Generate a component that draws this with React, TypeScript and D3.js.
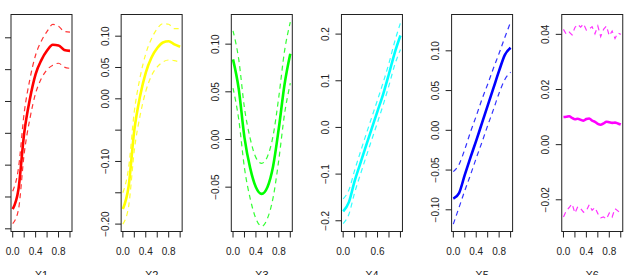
import React from 'react';
import * as d3 from 'd3';

// sample positions along each predictor
const xGrid = [0, 0.1, 0.2, 0.3, 0.4, 0.5, 0.6, 0.7, 0.8, 0.9, 1.0];
const xFine = [0, 0.05, 0.1, 0.15, 0.2, 0.25, 0.3, 0.35, 0.4, 0.45, 0.5, 0.55, 0.6, 0.65, 0.7, 0.75, 0.8, 0.85, 0.9, 0.95, 1.0];

const fit1 = [-0.169, -0.138, -0.05, 0.004, 0.043, 0.065, 0.08, 0.089, 0.088, 0.081, 0.0795];
const upper1 = [-0.141, -0.105, -0.018, 0.035, 0.073, 0.095, 0.11, 0.121, 0.118, 0.11, 0.109];
const lower1 = [-0.192, -0.17, -0.082, -0.027, 0.013, 0.036, 0.05, 0.057, 0.06, 0.054, 0.052];

const fit2 = [-0.176, -0.14, -0.05, 0.004, 0.042, 0.066, 0.081, 0.09, 0.092, 0.087, 0.083];
const upper2 = [-0.15, -0.11, -0.02, 0.034, 0.072, 0.096, 0.112, 0.12, 0.119, 0.112, 0.112];
const lower2 = [-0.2, -0.172, -0.082, -0.027, 0.012, 0.037, 0.051, 0.059, 0.062, 0.061, 0.058];

const fit3 = [0.084, 0.053, 0.002, -0.03, -0.05, -0.057, -0.05, -0.028, 0.012, 0.058, 0.09];
const upper3 = [0.114, 0.084, 0.033, 0.001, -0.019, -0.025, -0.018, 0.004, 0.045, 0.093, 0.123];
const lower3 = [0.054, 0.021, -0.03, -0.062, -0.083, -0.091, -0.083, -0.061, -0.021, 0.027, 0.059];

const fit4 = [-0.18, -0.16, -0.115, -0.077, -0.039, -0.002, 0.035, 0.072, 0.115, 0.16, 0.197];
const upper4 = [-0.153, -0.134, -0.092, -0.053, -0.015, 0.022, 0.059, 0.097, 0.138, 0.184, 0.224];
const lower4 = [-0.206, -0.186, -0.14, -0.101, -0.063, -0.026, 0.011, 0.049, 0.09, 0.134, 0.167];

const fit5 = [-0.086, -0.079, -0.056, -0.034, -0.013, 0.009, 0.031, 0.053, 0.075, 0.095, 0.104];
const upper5 = [-0.052, -0.043, -0.024, -0.002, 0.018, 0.039, 0.058, 0.078, 0.097, 0.117, 0.136];
const lower5 = [-0.118, -0.097, -0.076, -0.056, -0.035, -0.015, 0.006, 0.026, 0.047, 0.064, 0.073];

const fit6 = [0.01, 0.0101, 0.0103, 0.0097, 0.0092, 0.0094, 0.009, 0.0087, 0.0093, 0.0095, 0.0087,
  0.0083, 0.0075, 0.0072, 0.0077, 0.0083, 0.0081, 0.0079, 0.008, 0.0077, 0.0073];
const upper6 = [0.0418, 0.04, 0.0408, 0.0398, 0.0425, 0.0436, 0.0426, 0.0438, 0.0415, 0.042, 0.0428,
  0.0402, 0.043, 0.0392, 0.0418, 0.043, 0.0395, 0.0412, 0.0385, 0.0405, 0.04];
const lower6 = [-0.0262, -0.024, -0.0228, -0.0215, -0.0248, -0.0225, -0.0232, -0.0245, -0.024, -0.0218, -0.0238,
  -0.0228, -0.025, -0.0265, -0.0262, -0.027, -0.0248, -0.0262, -0.0232, -0.024, -0.0252];

const names = ['X1', 'X2', 'X3', 'X4', 'X5', 'X6'];
const colors = ['#ff0000', '#ffff00', '#00ff00', '#00ffff', '#0000ff', '#ff00ff'];

const yTicks1 = [-0.2, -0.15, -0.1, -0.05, 0, 0.05, 0.1];
const yTicks3 = [-0.05, 0, 0.05, 0.1];
const yTicks4 = [-0.2, -0.1, 0, 0.1, 0.2];
const yTicks5 = [-0.1, -0.05, 0, 0.05, 0.1];
const yTicks6 = [-0.02, 0, 0.02, 0.04];
const xTicks = [0, 0.2, 0.4, 0.6, 0.8, 1.0];
const xLabels = [0, 0.4, 0.8];
const xLabels4 = [0, 0.6];

const panels = [
  { x: xGrid, fit: fit1, upper: upper1, lower: lower1, domain: [-0.2042, 0.1366], yTicks: yTicks1, yLabels: [] as number[], digits: 2, xLab: xLabels },
  { x: xGrid, fit: fit2, upper: upper2, lower: lower2, domain: [-0.2118, 0.1346], yTicks: yTicks1, yLabels: [0.1, 0.05, 0, -0.1, -0.2], digits: 2, xLab: xLabels },
  { x: xGrid, fit: fit3, upper: upper3, lower: lower3, domain: [-0.0965, 0.1311], yTicks: yTicks3, yLabels: yTicks3, digits: 2, xLab: xLabels },
  { x: xGrid, fit: fit4, upper: upper4, lower: lower4, domain: [-0.223, 0.242], yTicks: yTicks4, yLabels: yTicks4, digits: 1, xLab: xLabels4 },
  { x: xGrid, fit: fit5, upper: upper5, lower: lower5, domain: [-0.1273, 0.1457], yTicks: yTicks5, yLabels: yTicks5, digits: 2, xLab: xLabels },
  { x: xFine, fit: fit6, upper: upper6, lower: lower6, domain: [-0.0315, 0.0472], yTicks: yTicks6, yLabels: yTicks6, digits: 2, xLab: xLabels },
];

const W = 627;
const H = 275;
const top = 14.5;
const bottom = 231.5;
const boxW = 61;
const step = 110.15;
const font = '"Liberation Sans", Arial, Helvetica, sans-serif';
const ink = '#222';

const fmt = (v: number, digits: number) => {
  const s = v.toFixed(digits);
  return s.startsWith('-') ? '\u2212' + s.slice(1) : s;
};

export default function App() {
  return (
    <svg width={W} height={H} style={{ position: 'absolute', left: 0, top: 0, background: '#fff' }}>
      {panels.map((p, i) => {
        const left = 11 + step * i;
        const right = left + boxW;
        const x = d3.scaleLinear().domain([-0.03, 1.035]).range([left, right]);
        const y = d3.scaleLinear().domain(p.domain).range([bottom, top]);
        const line = d3.line<number>()
          .x((_, j) => x(p.x[j]))
          .y(d => y(d))
          .curve(i === 5 ? d3.curveLinear : d3.curveMonotoneX);
        const fitLine = d3.line<number>()
          .x((_, j) => x(p.x[j]))
          .y(d => y(d))
          .curve(d3.curveMonotoneX);
        return (
          <g key={i}>
            <path d={line(p.upper) ?? ''} fill="none" stroke={colors[i]} strokeWidth={1.2}
              strokeDasharray="5,4" opacity={0.8} />
            <path d={line(p.lower) ?? ''} fill="none" stroke={colors[i]} strokeWidth={1.2}
              strokeDasharray="5,4" opacity={0.8} />
            <path d={fitLine(p.fit) ?? ''} fill="none" stroke={colors[i]} strokeWidth={2.6} />
            <rect x={left} y={top} width={boxW} height={bottom - top} fill="none" stroke={ink} strokeWidth={1} />
            {p.yTicks.map(t => (
              <line key={'yt' + t} x1={left} x2={left - 6} y1={y(t)} y2={y(t)} stroke={ink} />
            ))}
            {p.yLabels.map(t => (
              <text key={'yl' + t} transform={`translate(${left - 12.5},${y(t)}) rotate(-90)`}
                textAnchor="middle" fontFamily={font} fontSize={10} fill={ink}>
                {fmt(t, p.digits)}
              </text>
            ))}
            {xTicks.map(t => (
              <line key={'xt' + t} x1={x(t)} x2={x(t)} y1={bottom} y2={bottom + 6} stroke={ink} />
            ))}
            {p.xLab.map(t => (
              <text key={'xl' + t} x={x(t)} y={255} textAnchor="middle" fontFamily={font}
                fontSize={10} fill={ink}>
                {fmt(t, 1)}
              </text>
            ))}
            <text x={(left + right) / 2} y={278.5} textAnchor="middle" fontFamily={font}
              fontSize={11} fill={ink}>
              {names[i]}
            </text>
          </g>
        );
      })}
    </svg>
  );
}
